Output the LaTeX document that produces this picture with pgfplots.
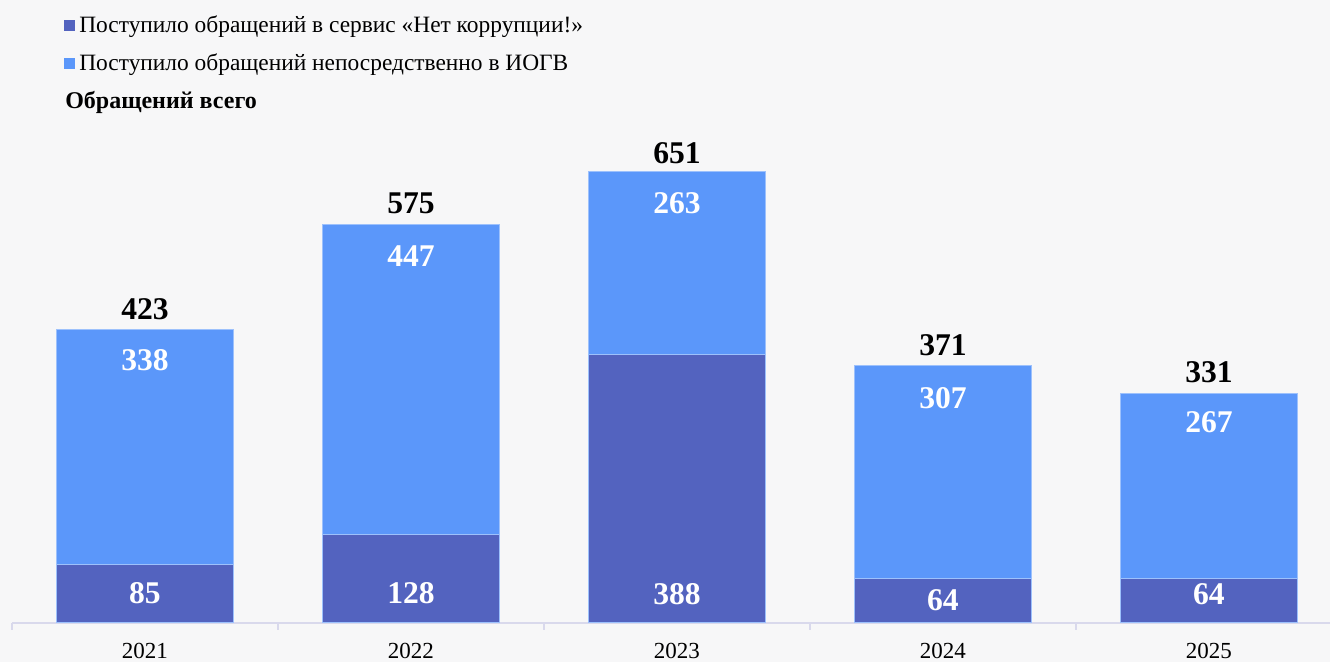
\documentclass[border=0pt]{standalone}
\usepackage{fontspec}
\setmainfont{Liberation Serif}
\usepackage{pgfplots}
\usepackage{pgfplotstable}
\pgfplotsset{compat=1.18}
\definecolor{bgc}{HTML}{F7F7F8}
\definecolor{darkc}{HTML}{5363BF}
\definecolor{lightc}{HTML}{5B97FA}
\definecolor{axc}{HTML}{D9D9EC}

% x: category position; ser: service "Нет коррупции!"; iogv: directly to IOGV; total
% lser, liogv, ltot: vertical placement of the value labels (axis units)
\pgfplotstableread{
x year ser iogv total lser liogv ltot
0 2021 85 338 423 43.3 379.5 453.1
1 2022 128 447 575 43.3 529.6 606.0
2 2023 388 263 651 41.8 606.1 678.2
3 2024 64 307 371 33.2 324.7 400.4
4 2025 64 267 331 41.8 290.0 362.2
}\datatable

\begin{document}
\begin{tikzpicture}[x=1pt,y=1pt]
\useasboundingbox (0,0) rectangle (665,331);
\fill[bgc] (0,0) rectangle (665,331);
\begin{axis}[
  at={(6pt,19.5pt)}, anchor=south west,
  scale only axis, width=659pt, height=242.55pt,
  xmin=-0.5, xmax=4.455, ymin=0, ymax=700,
  axis x line=bottom, axis y line=none,
  x axis line style={-, draw=axc, line width=1.2pt},
  xtick={0,1,2,3,4}, xticklabels={2021,2022,2023,2024,2025},
  major tick length=0pt,
  minor xtick={-0.5,0.5,1.5,2.5,3.5},
  minor tick length=3.5pt, tick align=outside, xtick pos=bottom,
  minor tick style={draw=axc, line width=0.8pt},
  xticklabel style={font=\fontsize{11.5}{13}\selectfont, inner sep=0pt, anchor=north, yshift=-10pt},
  clip=false,
  /pgf/number format/assume math mode=true,
  legend style={at={(0.0395,1.2513)}, anchor=north west, draw=none, fill=none,
    inner sep=0pt, outer sep=0pt, row sep=7.5pt,
    nodes={inner sep=0pt, text height=8.5pt, text depth=3pt, font=\fontsize{11.7}{14}\selectfont},
    /tikz/every odd column/.append style={column sep=2pt}},
  legend cell align=left,
]
\addlegendimage{legend image code/.code={\fill[darkc] (0pt,-1.6pt) rectangle (5.2pt,3.6pt);}}
\addlegendentry{Поступило обращений в сервис «Нет коррупции!»}
\addlegendimage{legend image code/.code={\fill[lightc] (0pt,-1.6pt) rectangle (5.2pt,3.6pt);}}
\addlegendentry{Поступило обращений непосредственно в ИОГВ}
\addlegendimage{legend image code/.code={}}
\addlegendentry{\hspace*{-7pt}\fontsize{12}{14}\selectfont\textbf{Обращений всего}}

\addplot[ybar, bar width=0.665, bar shift=0pt, fill=lightc, draw=lightc!60!white, line width=0.5pt, forget plot]
  table[x=x, y=total]{\datatable};
\addplot[ybar, bar width=0.665, bar shift=0pt, fill=darkc, draw=lightc!60!white, line width=0.5pt, forget plot]
  table[x=x, y=ser]{\datatable};

% value labels
\addplot[ybar, bar width=0.665, bar shift=0pt, draw=none, fill=none, forget plot,
  point meta=explicit, nodes near coords,
  every node near coord/.append style={anchor=center, text=white, font=\bfseries\fontsize{15.8}{17}\selectfont}]
  table[x=x, y=lser, meta=ser]{\datatable};
\addplot[ybar, bar width=0.665, bar shift=0pt, draw=none, fill=none, forget plot,
  point meta=explicit, nodes near coords,
  every node near coord/.append style={anchor=center, text=white, font=\bfseries\fontsize{15.8}{17}\selectfont}]
  table[x=x, y=liogv, meta=iogv]{\datatable};
\addplot[ybar, bar width=0.665, bar shift=0pt, draw=none, fill=none, forget plot,
  point meta=explicit, nodes near coords,
  every node near coord/.append style={anchor=center, text=black, font=\bfseries\fontsize{15.8}{17}\selectfont}]
  table[x=x, y=ltot, meta=total]{\datatable};
\end{axis}
\end{tikzpicture}
\end{document}
